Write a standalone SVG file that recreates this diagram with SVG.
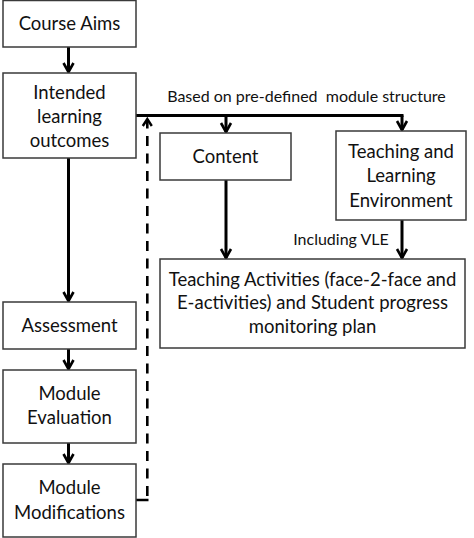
<svg xmlns="http://www.w3.org/2000/svg" width="474" height="538" viewBox="0 0 474 538">
<style>
.box{fill:#fff;stroke:#3a3a3a;stroke-width:1.5}
.t{font-family:Lato,"Open Sans","Liberation Sans",sans-serif;font-size:18.5px;fill:#111;text-anchor:middle}
.lbl{font-family:Lato,"Open Sans","Liberation Sans",sans-serif;font-size:16px;fill:#111;text-anchor:middle;white-space:pre}
.c{fill:none;stroke:#000;stroke-width:3}
.d{fill:none;stroke:#000;stroke-width:2.6;stroke-dasharray:10 7.5}
</style>
<defs>
<marker id="ah" markerUnits="userSpaceOnUse" viewBox="-2 -8 14 16" markerWidth="14" markerHeight="16" refX="9" refY="0" orient="auto">
<path d="M0,-5 L9,0 L0,5" fill="none" stroke="#000" stroke-width="2.6"/>
</marker>
<marker id="ah2" markerUnits="userSpaceOnUse" viewBox="-2 -8 14 16" markerWidth="14" markerHeight="16" refX="7" refY="0" orient="auto">
<path d="M0,-4.5 L7,0 L0,4.5" fill="none" stroke="#000" stroke-width="2.4"/>
</marker>
</defs>
<rect width="474" height="538" fill="#fff"/>
<g id="connectors">
<line class="c" x1="68.5" y1="47" x2="68.5" y2="72" marker-end="url(#ah)"/>
<line class="c" x1="68.5" y1="158" x2="68.5" y2="301" marker-end="url(#ah)"/>
<line class="c" x1="68.5" y1="349" x2="68.5" y2="369" marker-end="url(#ah)"/>
<line class="c" x1="68.5" y1="443" x2="68.5" y2="463" marker-end="url(#ah)"/>
<line class="c" x1="136" y1="115.5" x2="403.5" y2="115.5"/>
<line class="c" x1="226" y1="115.5" x2="226" y2="132" marker-end="url(#ah)"/>
<line class="c" x1="402" y1="115.5" x2="402" y2="130" marker-end="url(#ah)"/>
<line class="c" x1="226" y1="180" x2="226" y2="258" marker-end="url(#ah)"/>
<line class="c" x1="402" y1="220" x2="402" y2="258" marker-end="url(#ah)"/>
<line class="c" x1="136" y1="500" x2="148.5" y2="500" style="stroke-width:2.5"/>
<line class="d" x1="147.3" y1="496" x2="147.3" y2="119" marker-end="url(#ah2)"/>
<text class="lbl" x="306.5" y="101.5">Based on pre-defined  module structure</text>
<text class="lbl" x="341" y="245">Including VLE</text>
</g>
<g id="course-aims">
<rect class="box" x="3" y="0.5" width="133" height="46.5"/>
<text class="t" x="69.5" y="30">Course Aims</text>
</g>
<g id="intended-learning-outcomes">
<rect class="box" x="3" y="73" width="133" height="85"/>
<text class="t" x="69.5" y="98.5">Intended</text>
<text class="t" x="69.5" y="122.5">learning</text>
<text class="t" x="69.5" y="146.5">outcomes</text>
</g>
<g id="content">
<rect class="box" x="160" y="133" width="131" height="47"/>
<text class="t" x="225.5" y="163">Content</text>
</g>
<g id="teaching-learning-environment">
<rect class="box" x="336" y="131" width="130" height="89"/>
<text class="t" x="401" y="157.5">Teaching and</text>
<text class="t" x="401" y="182">Learning</text>
<text class="t" x="401" y="206.5">Environment</text>
</g>
<g id="teaching-activities">
<rect class="box" x="160" y="259" width="305" height="89"/>
<text class="t" x="312.5" y="285.5">Teaching Activities (face-2-face and</text>
<text class="t" x="312.5" y="309">E-activities) and Student progress</text>
<text class="t" x="312.5" y="332.5">monitoring plan</text>
</g>
<g id="assessment">
<rect class="box" x="3" y="302" width="133" height="47"/>
<text class="t" x="69.5" y="331.5">Assessment</text>
</g>
<g id="module-evaluation">
<rect class="box" x="3" y="370" width="133" height="73"/>
<text class="t" x="69.5" y="400">Module</text>
<text class="t" x="69.5" y="423.5">Evaluation</text>
</g>
<g id="module-modifications">
<rect class="box" x="3" y="464" width="133" height="73"/>
<text class="t" x="69.5" y="494">Module</text>
<text class="t" x="69.5" y="519">Modifications</text>
</g>
</svg>
